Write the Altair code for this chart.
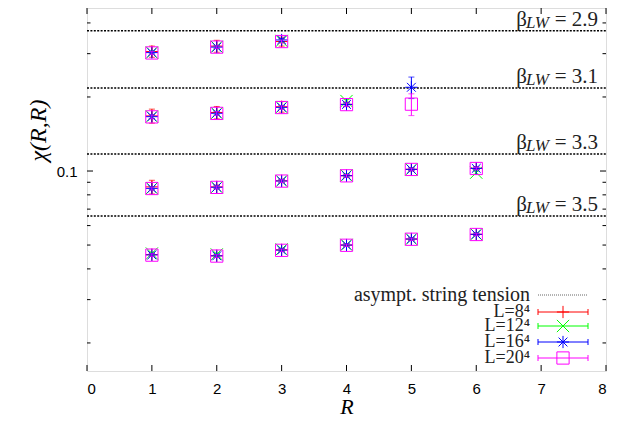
import altair as alt
import pandas as pd

# ---------------- data ----------------
series = ["L=8⁴", "L=12⁴", "L=16⁴", "L=20⁴"]
colors = ["#ff0000", "#00ff00", "#0000ff", "#ff00ff"]
shapes = [
    "M-1,0L1,0M0,-1L0,1",
    "M-1,-1L1,1M-1,1L1,-1",
    "M-1,0L1,0M0,-1L0,1M-0.72,-0.72L0.72,0.72M-0.72,0.72L0.72,-0.72",
    "square",
]

# beta_LW = 2.9  (R = 1..3)
R_29 = [1, 2, 3]
chi_29 = [[0.306, 0.322, 0.336], [0.303, 0.320, 0.338], [0.303, 0.319, 0.341], [0.302, 0.319, 0.336]]
err_29 = [[0.016, 0.018, 0.014], [0.004, 0.004, 0.005], [0.004, 0.004, 0.005], [0.004, 0.004, 0.005]]

# beta_LW = 3.1  (R = 1..4, R = 5 only for L=16^4, 20^4)
R_31 = [1, 2, 3, 4, 5]
chi_31 = [[0.1675, 0.1730, 0.1825, 0.1866, None],
          [0.1665, 0.1720, 0.1818, 0.1925, None],
          [0.1663, 0.1717, 0.1815, 0.1866, 0.219],
          [0.1660, 0.1715, 0.1812, 0.1862, 0.187]]
err_31 = [[0.011, 0.010, 0.009, 0.004, None],
          [0.003, 0.003, 0.003, 0.003, None],
          [0.003, 0.003, 0.003, 0.003, 0.022],
          [0.003, 0.003, 0.003, 0.003, 0.019]]

# beta_LW = 3.3  (R = 1..6)
R_33 = [1, 2, 3, 4, 5, 6]
chi_33 = [[0.0862, 0.0862, 0.0912, 0.0957, 0.1016, 0.1026],
          [0.0852, 0.0860, 0.0911, 0.0960, 0.1016, 0.0985],
          [0.0850, 0.0859, 0.0911, 0.0957, 0.1016, 0.1025],
          [0.0849, 0.0858, 0.0910, 0.0956, 0.1015, 0.1024]]
err_33 = [[0.0055, 0.0015, 0.0015, 0.0015, 0.0015, 0.0015],
          [0.0012, 0.0012, 0.0012, 0.0012, 0.0012, 0.0015],
          [0.0012, 0.0012, 0.0012, 0.0012, 0.0012, 0.0012],
          [0.0012, 0.0012, 0.0012, 0.0012, 0.0012, 0.0012]]

# beta_LW = 3.5  (R = 1..6)
R_35 = [1, 2, 3, 4, 5, 6]
chi_35 = [[0.0457, 0.0452, 0.0478, 0.0500, 0.0529, 0.0553],
          [0.0462, 0.0458, 0.0480, 0.0501, 0.0529, 0.0553],
          [0.0456, 0.0452, 0.0477, 0.0500, 0.0529, 0.0553],
          [0.0455, 0.0451, 0.0476, 0.0499, 0.0528, 0.0552]]
err_35 = [[0.0006, 0.0006, 0.0006, 0.0006, 0.0006, 0.0006],
          [0.0006, 0.0006, 0.0006, 0.0006, 0.0006, 0.0006],
          [0.0006, 0.0006, 0.0006, 0.0006, 0.0006, 0.0006],
          [0.0006, 0.0006, 0.0006, 0.0006, 0.0006, 0.0006]]

# asymptotic string tension levels
beta_labels = ["2.9", "3.1", "3.3", "3.5"]
sigma_levels = [0.372, 0.2175, 0.1173, 0.0656]

x_ticks = [0, 1, 2, 3, 4, 5, 6, 7, 8]
y_major = [0.1]
y_minor = [0.02, 0.03, 0.04, 0.05, 0.06, 0.07, 0.08, 0.09, 0.2, 0.3, 0.4]
y_domain = [0.01538, 0.46]

# ---------------- build tables ----------------
groups = [(R_29, chi_29, err_29), (R_31, chi_31, err_31), (R_33, chi_33, err_33), (R_35, chi_35, err_35)]
rows = []
for si, s in enumerate(series):
    for Rs, chis, errs in groups:
        for R, c, e in zip(Rs, chis[si], errs[si]):
            if c is None:
                continue
            rows.append({"series": s, "R": R, "chi": c, "lo": c - e, "hi": c + e})
df = pd.DataFrame(rows)

W, H = 519, 363
SERIF = "Liberation Serif"
SANS = "Liberation Sans"

xsc = alt.Scale(domain=[0, 8], nice=False)
ysc = alt.Scale(type="log", domain=y_domain, nice=False)
xaxis = alt.Axis(values=x_ticks, format="d", ticks=False, domain=False, grid=False,
                 labelFont=SANS, labelFontSize=15, labelColor="black", labelPadding=10,
                 title="R", titleFont=SERIF, titleFontStyle="italic", titleFontWeight="normal",
                 titleFontSize=22, titleColor="black", titleY=42, titleBaseline="alphabetic")
yaxis = alt.Axis(values=y_major, format=".1f", ticks=False, domain=False, grid=False,
                 labelFont=SANS, labelFontSize=15, labelColor="black", labelPadding=10,
                 title="χ(R,R)", titleFont=SERIF, titleFontStyle="italic", titleFontWeight="normal",
                 titleFontSize=24, titleColor="black", titleAngle=270, titleX=-49, titleY=122,
                 titleAlign="center", titleBaseline="middle")


def X(f):
    return alt.X(f, type="quantitative", scale=xsc, axis=xaxis)


def Y(f):
    return alt.Y(f, type="quantitative", scale=ysc, axis=yaxis)


layers = []

# asymptotic string tension lines + labels
df_sig = pd.DataFrame({"sigma": sigma_levels, "beta": beta_labels, "eq": ["= " + b for b in beta_labels]})
layers.append(alt.Chart(df_sig).mark_rule(color="black", strokeWidth=1.6, strokeDash=[2, 1.4]).encode(
    y=Y("sigma"), x=alt.value(0), x2=alt.value(W)))
layers.append(alt.Chart(df_sig).mark_text(align="right", baseline="alphabetic", dx=-8, dy=-5,
                                          font=SERIF, fontSize=21, color="#222").encode(
    y=Y("sigma"), x=alt.value(W), text="eq:N"))
layers.append(alt.Chart(df_sig).mark_text(align="right", baseline="alphabetic", dx=-57, dy=-3,
                                          font=SERIF, fontSize=17, fontStyle="italic", color="#222").encode(
    y=Y("sigma"), x=alt.value(W), text=alt.value("LW")))
layers.append(alt.Chart(df_sig).mark_text(align="right", baseline="alphabetic", dx=-79, dy=-5,
                                          font=SERIF, fontSize=21, color="#222").encode(
    y=Y("sigma"), x=alt.value(W), text=alt.value("β")))

# data series
for s, col, shp in zip(series, colors, shapes):
    d = df[df.series == s]
    base = alt.Chart(d)
    layers.append(base.mark_rule(color=col, strokeWidth=1).encode(x=X("R"), y=Y("lo"), y2="hi"))
    layers.append(base.mark_tick(color=col, orient="horizontal", size=6, thickness=1).encode(x=X("R"), y=Y("lo")))
    layers.append(base.mark_tick(color=col, orient="horizontal", size=6, thickness=1).encode(x=X("R"), y=Y("hi")))
    layers.append(base.mark_point(shape=shp, filled=False, color=col, size=150, strokeWidth=1, opacity=1).encode(
        x=X("R"), y=Y("chi")))

# inward ticks (bottom/top and left/right)
df_xt = pd.DataFrame({"t": x_ticks})
layers.append(alt.Chart(df_xt).mark_rule(color="black", strokeWidth=1).encode(
    x=X("t"), y=alt.value(H), y2=alt.value(H - 6)))
layers.append(alt.Chart(df_xt).mark_rule(color="black", strokeWidth=1).encode(
    x=X("t"), y=alt.value(0), y2=alt.value(6)))
df_ymin = pd.DataFrame({"v": y_minor})
df_ymaj = pd.DataFrame({"v": y_major})
for dd, ln in ((df_ymin, 3.5), (df_ymaj, 6)):
    layers.append(alt.Chart(dd).mark_rule(color="black", strokeWidth=1).encode(
        y=Y("v"), x=alt.value(0), x2=alt.value(ln)))
    layers.append(alt.Chart(dd).mark_rule(color="black", strokeWidth=1).encode(
        y=Y("v"), x=alt.value(W), x2=alt.value(W - ln)))

# legend (gnuplot style: label left, sample right)
leg_y = [287, 304, 318, 334, 350]
LX_TEXT, LX0, LX1, LXS = 443, 451, 501, 476
df_l0 = pd.DataFrame({"y": [leg_y[0]], "label": ["asympt. string tension"]})
layers.append(alt.Chart(df_l0).mark_text(align="right", baseline="middle", font=SERIF, fontSize=20,
                                         color="#222").encode(
    x=alt.value(LX_TEXT), y=alt.Y("y:Q", scale=None, axis=None), text="label:N"))
layers.append(alt.Chart(df_l0).mark_rule(color="#666", strokeWidth=1, strokeDash=[1, 1]).encode(
    x=alt.value(LX0), x2=alt.value(LX1), y=alt.Y("y:Q", scale=None, axis=None)))
for yy, s, col, shp in zip(leg_y[1:], series, colors, shapes):
    dl = pd.DataFrame({"y": [yy], "y1": [yy - 3], "y2": [yy + 3], "label": [s]})
    b = alt.Chart(dl)
    layers.append(b.mark_text(align="right", baseline="middle", font=SERIF, fontSize=18, color="#222").encode(
        x=alt.value(LX_TEXT), y=alt.Y("y:Q", scale=None, axis=None), text="label:N"))
    layers.append(b.mark_rule(color=col, strokeWidth=1).encode(
        x=alt.value(LX0), x2=alt.value(LX1), y=alt.Y("y:Q", scale=None, axis=None)))
    for xe in (LX0, LX1):
        layers.append(b.mark_rule(color=col, strokeWidth=1).encode(
            x=alt.value(xe), y=alt.Y("y1:Q", scale=None, axis=None), y2="y2:Q"))
    layers.append(b.mark_point(shape=shp, filled=False, color=col, size=150, strokeWidth=1, opacity=1).encode(
        x=alt.value(LXS), y=alt.Y("y:Q", scale=None, axis=None)))

chart = alt.layer(*layers).properties(
    width=W, height=H,
    autosize=alt.AutoSizeParams(type="none"),
    padding={"left": 79, "top": 0, "right": 15, "bottom": 47},
).configure_view(stroke="black", strokeWidth=1.5).configure(background="white")

chart.save("out.html", embed_options={"renderer": "svg", "actions": False})
